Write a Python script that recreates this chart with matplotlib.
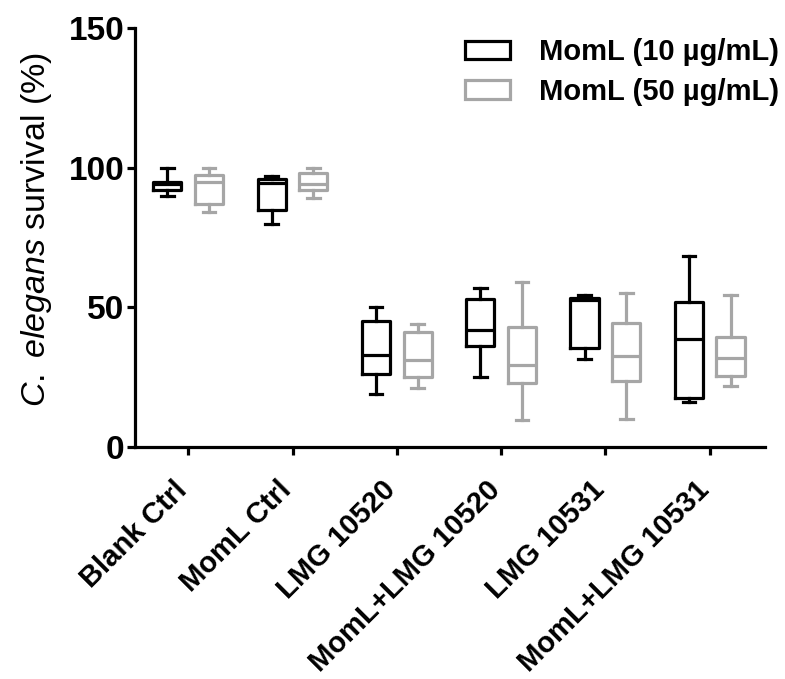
import matplotlib
matplotlib.use("Agg")
import matplotlib.pyplot as plt
import matplotlib.transforms as mtransforms
from matplotlib.patches import Patch

plt.rcParams['font.family'] = ['Liberation Sans', 'DejaVu Sans']
plt.rcParams['mathtext.fontset'] = 'custom'
plt.rcParams['mathtext.rm'] = 'Liberation Sans'
plt.rcParams['mathtext.it'] = 'Liberation Sans:italic'

categories = ["Blank Ctrl", "MomL Ctrl", "LMG 10520", "MomL+LMG 10520", "LMG 10531", "MomL+LMG 10531"]
series_names = ["MomL (10 µg/mL)", "MomL (50 µg/mL)"]
# (min, q1, median, q3, max)
momL10 = [
    (90, 92, 94, 95, 100),
    (80, 85, 94.5, 96, 97),
    (19, 26, 33, 45, 50),
    (25, 36, 42, 53, 57),
    (31.5, 35.5, 52.5, 53.5, 54.5),
    (16, 17.5, 38.5, 52, 68.5),
]
momL50 = [
    (84, 87, 95, 97.5, 100),
    (89, 92, 94, 98, 100),
    (21, 25, 31, 41, 44),
    (9.5, 23, 29.5, 43, 59),
    (10, 23.5, 32.5, 44.5, 55),
    (22, 25.5, 32, 39.5, 54.5),
]
colors = ["#000000", "#A6A6A6"]

def to_stats(vals):
    out = []
    for (mn, q1, md, q3, mx) in vals:
        out.append(dict(whislo=mn, q1=q1, med=md, q3=q3, whishi=mx, fliers=[]))
    return out

fig = plt.figure(figsize=(7.85, 6.79), dpi=100)
ax = fig.add_axes([0.172, 0.3417, 0.8025, 0.6171])

lw = 2.3
offs = [-0.2, 0.2]
for data, col, off in zip([momL10, momL50], colors, offs):
    pos = [i + off for i in range(len(categories))]
    ax.bxp(to_stats(data), positions=pos, widths=0.27, capwidths=0.12,
           showfliers=False, manage_ticks=False,
           boxprops=dict(color=col, linewidth=lw),
           whiskerprops=dict(color=col, linewidth=lw),
           capprops=dict(color=col, linewidth=lw),
           medianprops=dict(color=col, linewidth=lw))

ax.set_xlim(-0.51, 5.53)
ax.set_ylim(0, 150)
ax.set_yticks([0, 50, 100, 150])
ax.set_xticks(range(len(categories)))
ax.set_xticklabels([])
shift = mtransforms.ScaledTranslation(-0.15, -0.29, fig.dpi_scale_trans)
for i, cat in enumerate(categories):
    ax.text(i, 0, cat, transform=ax.get_xaxis_transform() + shift,
            rotation=45, ha='right', va='top', rotation_mode='anchor',
            fontsize=21, fontweight='bold', clip_on=False)
for t in ax.get_yticklabels():
    t.set_fontsize(24)
    t.set_fontweight('bold')

ax.spines['top'].set_visible(False)
ax.spines['right'].set_visible(False)
ax.spines['left'].set_linewidth(2.3)
ax.spines['bottom'].set_linewidth(2.3)
ax.tick_params(axis='both', direction='out', length=6, width=2.3)
ax.tick_params(axis='y', pad=1.5)

ax.set_ylabel(r'$\mathit{C.\ elegans}$ survival (%)', fontsize=24.5)
ax.yaxis.set_label_coords(-0.128, 0.52)

handles = [Patch(facecolor='white', edgecolor=c, linewidth=lw) for c in colors]
fig.legend(handles, series_names, loc='upper right', bbox_to_anchor=(1.026, 0.982),
           frameon=False, prop=dict(size=21, weight='bold'),
           handlelength=1.55, handleheight=0.6, handletextpad=1.0, labelspacing=0.38)

fig.savefig("out.png", dpi=100)
